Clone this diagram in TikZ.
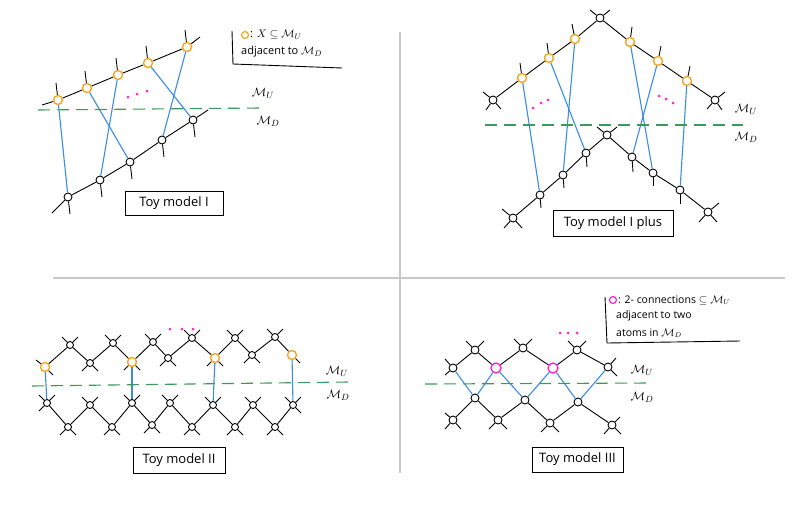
\documentclass[tikz,border=0pt]{standalone}
\usepackage{fontspec}
\setmainfont{Open Sans}
\definecolor{orng}{HTML}{F5A623}
\definecolor{blu}{HTML}{3A8DE0}
\definecolor{grn}{HTML}{3A9A5B}
\definecolor{mgt}{HTML}{FF1FD8}
\definecolor{sep}{HTML}{C8C8C8}
\newcommand\mylegs[2]{\foreach \dx/\dy in {#2}{\draw[leg] (#1) -- ++(\dx,\dy);}}
\begin{document}
\begin{tikzpicture}[x=1pt,y=-1pt,
  blk/.style={circle,draw=black,fill=white,line width=0.9pt,inner sep=0pt,minimum size=8pt},
  sblk/.style={blk,minimum size=7pt},
  org/.style={blk,draw=orng,line width=1.4pt,minimum size=9pt},
  mag/.style={blk,draw=mgt,line width=1.3pt,minimum size=10pt},
  chain/.style={draw=black,line width=0.9pt},
  leg/.style={draw=black,line width=0.9pt},
  link/.style={draw=blu,line width=1.1pt},
  mid/.style={draw=grn,line width=1.1pt,dash pattern=on 12pt off 7pt},
  pdot/.style={circle,fill=mgt,inner sep=0pt,minimum size=3pt},
  mlab/.style={font=\fontsize{13}{15}\selectfont,inner sep=0pt},
  legtxt/.style={font=\fontsize{11}{13}\selectfont,inner sep=0pt,anchor=west},
  toy/.style={draw=black,line width=0.9pt,font=\fontsize{13}{15}\selectfont,inner sep=0pt,minimum height=24pt},
  sepline/.style={draw=sep,line width=2pt}
]
\useasboundingbox (0,0) rectangle (800,504);
\fill[white] (0,0) rectangle (800,504);
% separators
\coordinate (h1) at (53,278); \coordinate (h2) at (785,278);
\coordinate (v1) at (400,32); \coordinate (v2) at (400,473);
\draw[sepline] (h1) -- (h2);
\draw[sepline] (v1) -- (v2);

%%%%%%%%%%%%%%%% Q1
\coordinate (a0) at (42,105); \coordinate (a6) at (200,37);
\node[org] (a1) at (58,100) {};
\node[org] (a2) at (87,88) {};
\node[org] (a3) at (118,75) {};
\node[org] (a4) at (148,63) {};
\node[org] (a5) at (187,47) {};
\coordinate (b0) at (52,213); \coordinate (b6) at (208,110);
\node[blk] (b1) at (68,197) {};
\node[blk] (b2) at (100,180) {};
\node[blk] (b3) at (130,162) {};
\node[blk] (b4) at (162,140) {};
\node[blk] (b5) at (193,120) {};
\draw[chain] (a0) -- (a1) -- (a2) -- (a3) -- (a4) -- (a5) -- (a6);
\draw[chain] (b0) -- (b1) -- (b2) -- (b3) -- (b4) -- (b5) -- (b6);
\foreach \n in {a1,a2,a3,a4,a5}{\draw[leg] (\n) -- ++(-2,-17);}
\foreach \n in {b1,b2,b3,b4,b5}{\draw[leg] (\n) -- ++(2,17);}
\draw[link] (a1) -- (b1);
\draw[link] (a2) -- (b3);
\draw[link] (a3) -- (b2);
\draw[link] (a4) -- (b5);
\draw[link] (a5) -- (b4);
\coordinate (g1a) at (38,110); \coordinate (g1b) at (260,108);
\draw[mid] (g1a) -- (g1b);
\node[mlab] (mu1) at (263,93) {$\mathcal{M}_U$};
\node[mlab] (md1) at (268,121) {$\mathcal{M}_D$};
\node[pdot] (p11) at (128,97) {};
\node[pdot] (p12) at (137,94) {};
\node[pdot] (p13) at (147,91) {};
\node[toy,minimum width=98pt] (toy1) at (174,203.5) {Toy model I};
% legend 1
\coordinate (l1a) at (232,31); \coordinate (l1b) at (233,64); \coordinate (l1c) at (342,68);
\draw[leg] (l1a) -- (l1b) -- (l1c);
\node[org,minimum size=7pt,line width=1.2pt] (lo1) at (245,35) {};
\node[legtxt] (lt1) at (250,35) {: $X\subseteq\mathcal{M}_U$};
\node[legtxt] (lt2) at (241,52) {adjacent to $\mathcal{M}_D$};

%%%%%%%%%%%%%%%% Q2
\node[blk] (A) at (600,18) {};
\node[org] (L1) at (575,39) {};
\node[org] (L2) at (549,58) {};
\node[org] (L3) at (522,78) {};
\node[blk] (LE) at (493,100) {};
\node[org] (R1) at (630,42) {};
\node[org] (R2) at (658,61) {};
\node[org] (R3) at (687,81) {};
\node[blk] (RE) at (715,100) {};
\node[blk] (B) at (607,135) {};
\node[blk] (P1) at (586,153) {};
\node[blk] (P2) at (563,175) {};
\node[blk] (P3) at (540,195) {};
\node[blk] (PE) at (513,218) {};
\node[blk] (Q1) at (632,157) {};
\node[blk] (Q2) at (653,173) {};
\node[blk] (Q3) at (680,190) {};
\node[blk] (QE) at (708,212) {};
\draw[chain] (LE) -- (L3) -- (L2) -- (L1) -- (A) -- (R1) -- (R2) -- (R3) -- (RE);
\draw[chain] (PE) -- (P3) -- (P2) -- (P1) -- (B) -- (Q1) -- (Q2) -- (Q3) -- (QE);
\mylegs{A}{-10/-8,10/-8}
\mylegs{B}{-10/-8,10/-8}
\mylegs{LE}{-10/-8,8/9,-7/10}
\mylegs{RE}{10/-8,-8/9,7/10}
\mylegs{PE}{-11/-9,9/10,-9/10}
\mylegs{QE}{11/-9,-9/10,9/10}
\draw[leg] (L1) -- ++(-3,-15);
\draw[leg] (L2) -- ++(-2,-15);
\draw[leg] (L3) -- ++(-2,-15);
\draw[leg] (R1) -- ++(2,-15);
\draw[leg] (R2) -- ++(3,-15);
\draw[leg] (R3) -- ++(3,-15);
\draw[leg] (P1) -- ++(1,14);
\draw[leg] (P2) -- ++(1,13);
\draw[leg] (P3) -- ++(1,13);
\draw[leg] (Q1) -- ++(1,15);
\draw[leg] (Q2) -- ++(0,13);
\draw[leg] (Q3) -- ++(0,14);
\draw[link] (L3) -- (P3);
\draw[link] (L2) -- (P1);
\draw[link] (L1) -- (P2);
\draw[link] (R1) -- (Q2);
\draw[link] (R2) -- (Q1);
\draw[link] (R3) -- (Q3);
\coordinate (g2a) at (485,125); \coordinate (g2b) at (743,125);
\draw[mid] (g2a) -- (g2b);
\node[mlab] (mu2) at (746,109) {$\mathcal{M}_U$};
\node[mlab] (md2) at (746,137) {$\mathcal{M}_D$};
\node[pdot] (p21) at (533,108) {};
\node[pdot] (p22) at (541,103) {};
\node[pdot] (p23) at (548,100) {};
\node[pdot] (p24) at (659,96) {};
\node[pdot] (p25) at (666,99) {};
\node[pdot] (p26) at (673,103) {};
\node[toy,minimum width=120pt,minimum height=26pt] (toy2) at (613,223.5) {Toy model I plus};

%%%%%%%%%%%%%%%% Q3
\foreach \n/\x/\y in {2/70/345,3/90/363,4/113/343,6/153/342,7/168/358,8/192/338,10/235/338,11/252/355,12/275/337}
  {\node[sblk] (t\n) at (\x,\y) {};}
\foreach \n/\x/\y in {1/45/367,5/132/362,9/215/358,13/292/355}
  {\node[org] (t\n) at (\x,\y) {};}
\foreach \n/\x/\y in {1/47/403,2/68/427,3/90/405,4/112/427,5/132/403,6/152/425,7/170/403,8/192/427,9/213/405,10/235/427,11/253/405,12/275/427,13/293/405}
  {\node[sblk] (s\n) at (\x,\y) {};}
\draw[chain] (t1) -- (t2) -- (t3) -- (t4) -- (t5) -- (t6) -- (t7) -- (t8) -- (t9) -- (t10) -- (t11) -- (t12) -- (t13);
\draw[chain] (s1) -- (s2) -- (s3) -- (s4) -- (s5) -- (s6) -- (s7) -- (s8) -- (s9) -- (s10) -- (s11) -- (s12) -- (s13);
\foreach \n in {t2,t4,t6,t8,t10,t12,s3,s5,s7,s9,s11}{\mylegs{\n}{-8/-8,8/-8}}
\foreach \n in {t3,t5,t7,t9,t11,s2,s4,s6,s8,s10,s12}{\mylegs{\n}{-8/8,8/8}}
\mylegs{t1}{-9/-7,8/8}
\mylegs{t13}{8/8}
\mylegs{s1}{-8/-8,8/-8,-8/8}
\mylegs{s13}{-8/-8,8/-8,8/8}
\draw[link] (t1) -- (s1);
\draw[link] (t5) -- (s5);
\draw[link] (t9) -- (s9);
\draw[link] (t13) -- (s13);
\coordinate (g3a) at (32,386); \coordinate (g3b) at (348,382);
\draw[mid] (g3a) -- (g3b);
\node[mlab] (mu3) at (337,371) {$\mathcal{M}_U$};
\node[mlab] (md3) at (338,395) {$\mathcal{M}_D$};
\node[pdot] (p31) at (170,329) {};
\node[pdot] (p32) at (182,329) {};
\node[pdot] (p33) at (193,329) {};
\node[toy,minimum width=92pt,minimum height=26pt] (toy3) at (179,460) {Toy model II};

%%%%%%%%%%%%%%%% Q4
\node[blk] (V1) at (453,368) {};
\node[blk] (V2) at (475,350) {};
\node[mag] (V3) at (496,368) {};
\node[blk] (V4) at (523,348) {};
\node[mag] (V5) at (553,368) {};
\node[blk] (V6) at (577,350) {};
\node[blk] (V7) at (608,367) {};
\node[blk] (W1) at (453,420) {};
\node[blk] (W2) at (475,398) {};
\node[blk] (W3) at (498,420) {};
\node[blk] (W4) at (525,400) {};
\node[blk] (W5) at (550,423) {};
\node[blk] (W6) at (578,402) {};
\node[blk] (W7) at (612,425) {};
\draw[chain] (V1) -- (V2) -- (V3) -- (V4) -- (V5) -- (V6) -- (V7);
\draw[chain] (W1) -- (W2) -- (W3) -- (W4) -- (W5) -- (W6) -- (W7);
\foreach \n in {V2,V4,V6}{\mylegs{\n}{-9/-9,9/-9}}
\foreach \n in {W3,W5}{\mylegs{\n}{-9/9,9/9}}
\mylegs{V1}{-8/-9,-8/7}
\mylegs{V7}{8/-9,9/9}
\mylegs{W1}{-8/-7,-8/9,8/9}
\mylegs{W7}{8/-8,-8/9,9/9}
\draw[link] (V1) -- (W2);
\draw[link] (V3) -- (W2);
\draw[link] (V3) -- (W4);
\draw[link] (V5) -- (W4);
\draw[link] (V5) -- (W6);
\draw[link] (V7) -- (W6);
\coordinate (g4a) at (425,384); \coordinate (g4b) at (650,383);
\draw[mid] (g4a) -- (g4b);
\node[mlab] (mu4) at (642,370) {$\mathcal{M}_U$};
\node[mlab] (md4) at (642,397) {$\mathcal{M}_D$};
\node[pdot] (p41) at (560,333) {};
\node[pdot] (p42) at (568,333) {};
\node[pdot] (p43) at (577,333) {};
\node[toy,minimum width=91pt,minimum height=25pt] (toy4) at (577.5,459.5) {Toy model III};
% legend 4
\coordinate (l4a) at (605,297); \coordinate (l4b) at (607,343); \coordinate (l4c) at (740,341);
\draw[leg] (l4a) -- (l4b) -- (l4c);
\node[mag,minimum size=7pt,line width=1.2pt] (lo4) at (613,300) {};
\node[legtxt,font=\fontsize{10.5}{12}\selectfont] (lt41) at (618,300) {: 2- connections $\subseteq\mathcal{M}_U$};
\node[legtxt,font=\fontsize{10.5}{12}\selectfont] (lt42) at (616,316) {adjacent to two};
\node[legtxt,font=\fontsize{10.5}{12}\selectfont] (lt43) at (616,333) {atoms in $\mathcal{M}_D$};
\end{tikzpicture}
\end{document}
